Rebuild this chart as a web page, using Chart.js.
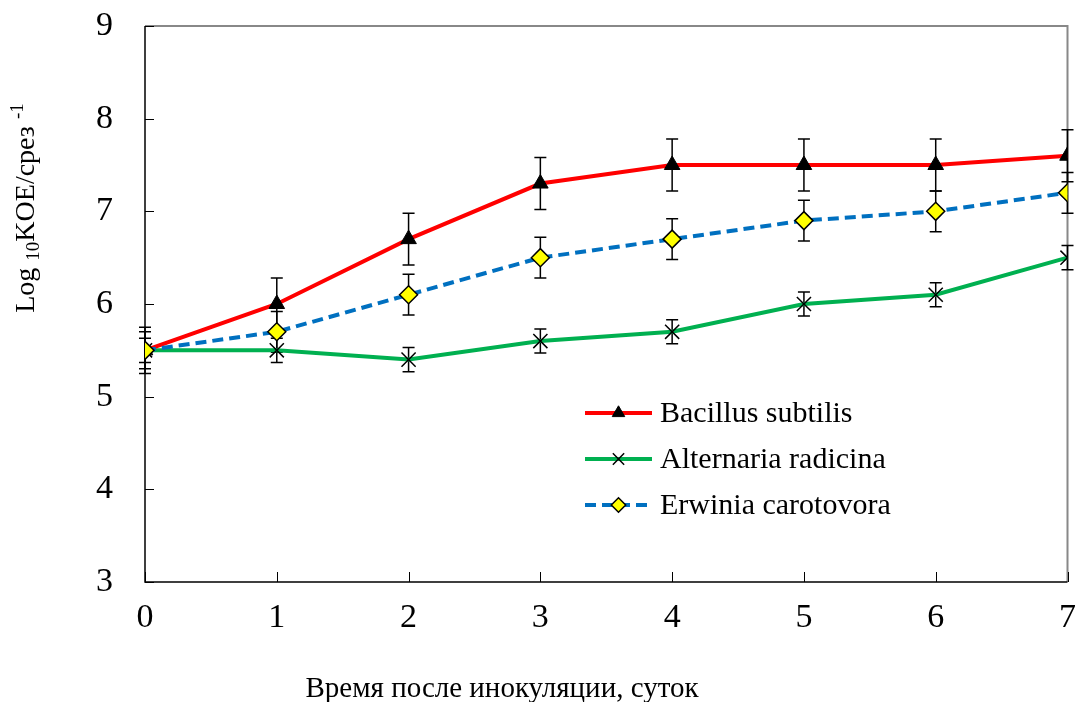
<!DOCTYPE html>
<html>
<head>
<meta charset="utf-8">
<script src="https://cdn.jsdelivr.net/npm/chart.js@4"></script>
<style>
  html, body { margin: 0; padding: 0; background: #fff; }
  #wrap { width: 1079px; height: 702px; }
</style>
</head>
<body>
<div id="wrap"><canvas id="myChart"></canvas></div>
<script>
// data
const days = [0, 1, 2, 3, 4, 5, 6, 7];
const yTicks = [3, 4, 5, 6, 7, 8, 9];
const seriesNames = ["Bacillus subtilis", "Alternaria radicina", "Erwinia carotovora"];
const bacillus = [5.5, 6.0, 6.7, 7.3, 7.5, 7.5, 7.5, 7.6];
const bacillusErr = [0.25, 0.28, 0.28, 0.28, 0.28, 0.28, 0.28, 0.28];
const alternaria = [5.5, 5.5, 5.4, 5.6, 5.7, 6.0, 6.1, 6.5];
const alternariaErr = [0.13, 0.13, 0.13, 0.13, 0.13, 0.13, 0.13, 0.13];
const erwinia = [5.5, 5.7, 6.1, 6.5, 6.7, 6.9, 7.0, 7.2];
const erwiniaErr = [0.2, 0.22, 0.22, 0.22, 0.22, 0.22, 0.22, 0.22];
const xTitle = "Время после инокуляции, суток";

const FONT = "'Liberation Serif', 'Times New Roman', serif";

function pts(vals) {
  return days.map((d, i) => ({ x: d, y: vals[i] }));
}

const errors = [bacillusErr, alternariaErr, erwiniaErr];

//error bars under the markers
const errorBars = {
  id: "errorBars",
  beforeDatasetsDraw(chart) {
    const ctx = chart.ctx;
    const xs = chart.scales.x, ys = chart.scales.y;
    ctx.save();
    ctx.strokeStyle = "#000";
    ctx.lineWidth = 1.5;
    chart.data.datasets.forEach((ds, di) => {
      ds.data.forEach((p, i) => {
        const e = errors[di][i];
        const px = xs.getPixelForValue(p.x);
        const top = ys.getPixelForValue(p.y + e);
        const bot = ys.getPixelForValue(p.y - e);
        ctx.beginPath();
        ctx.moveTo(px, top); ctx.lineTo(px, bot);
        ctx.moveTo(px - 6, top); ctx.lineTo(px + 6, top);
        ctx.moveTo(px - 6, bot); ctx.lineTo(px + 6, bot);
        ctx.stroke();
      });
    });
    ctx.restore();
  }
};

//frame, inward ticks, titles and legend
const decor = {
  id: "decor",
  beforeDatasetsDraw(chart) {
    const ctx = chart.ctx;
    const a = chart.chartArea;
    const xs = chart.scales.x, ys = chart.scales.y;
    ctx.save();
    ctx.strokeStyle = "#888";
    ctx.lineWidth = 2;
    ctx.beginPath();
    ctx.moveTo(a.left, a.top); ctx.lineTo(a.right, a.top); ctx.lineTo(a.right, a.bottom);
    ctx.stroke();
    ctx.strokeStyle = "#000";
    ctx.lineWidth = 1.5;
    ctx.beginPath();
    ctx.moveTo(a.left, a.top); ctx.lineTo(a.left, a.bottom); ctx.lineTo(a.right, a.bottom);
    ctx.stroke();
    ctx.lineWidth = 1;
    ctx.beginPath();
    yTicks.forEach(v => {
      const py = Math.round(ys.getPixelForValue(v)) + 0.5;
      ctx.moveTo(a.left, py); ctx.lineTo(a.left + 9, py);
    });
    days.forEach(v => {
      const px = Math.round(xs.getPixelForValue(v)) + 0.5;
      ctx.moveTo(px, a.bottom); ctx.lineTo(px, a.bottom - 10);
    });
    ctx.stroke();
    ctx.restore();
  },
  afterDraw(chart) {
    const ctx = chart.ctx;
    const a = chart.chartArea;
    ctx.save();
    ctx.fillStyle = "#000";
    ctx.textBaseline = "alphabetic";

    // x title
    ctx.font = "29px " + FONT;
    ctx.textAlign = "center";
    ctx.fillText(xTitle, a.left + (a.right - a.left) * 0.387, 697);

    // y title with sub/superscript
    ctx.translate(34, 208);
    ctx.rotate(-Math.PI / 2);
    const parts = [
      { t: "Log ", size: 28, dy: 0 },
      { t: "10", size: 19, dy: 5 },
      { t: "KOE/срез ", size: 28, dy: 0 },
      { t: "-1", size: 19, dy: -11 }
    ];
    let total = 0;
    parts.forEach(p => { ctx.font = p.size + "px " + FONT; total += ctx.measureText(p.t).width; });
    let cx = -total / 2;
    ctx.textAlign = "left";
    parts.forEach(p => {
      ctx.font = p.size + "px " + FONT;
      ctx.fillText(p.t, cx, p.dy);
      cx += ctx.measureText(p.t).width;
    });
    ctx.setTransform(1, 0, 0, 1, 0, 0);

    // legend
    const lx = 585, lw = 67, ly0 = 413, gap = 46;
    chart.data.datasets.forEach((ds, i) => {
      const y = ly0 + i * gap;
      ctx.save();
      ctx.strokeStyle = ds.borderColor;
      ctx.lineWidth = ds.borderWidth;
      ctx.setLineDash(ds.borderDash || []);
      ctx.beginPath();
      ctx.moveTo(lx, y); ctx.lineTo(lx + lw, y);
      ctx.stroke();
      ctx.restore();
      ctx.save();
      ctx.fillStyle = ds.pointBackgroundColor;
      ctx.strokeStyle = ds.pointBorderColor;
      ctx.lineWidth = ds.pointBorderWidth;
      Chart.helpers.drawPoint(ctx, {
        pointStyle: ds.pointStyle,
        radius: ds.pointRadius * 0.8,
        borderWidth: ds.pointBorderWidth,
        rotation: 0
      }, lx + lw / 2, y);
      ctx.restore();
      ctx.font = "30px " + FONT;
      ctx.fillStyle = "#000";
      ctx.textAlign = "left";
      ctx.textBaseline = "middle";
      ctx.fillText(ds.label, lx + lw + 8, y + 1);
    });
    ctx.restore();
  }
};

const ctx = document.getElementById("myChart");
new Chart(ctx, {
  type: "line",
  data: {
    datasets: [
      {
        label: seriesNames[0],
        data: pts(bacillus),
        borderColor: "#FF0000",
        borderWidth: 4,
        pointStyle: "triangle",
        pointRadius: 9,
        pointBackgroundColor: "#000",
        pointBorderColor: "#000",
        pointBorderWidth: 1,
        order: 2
      },
      {
        label: seriesNames[1],
        data: pts(alternaria),
        borderColor: "#00B050",
        borderWidth: 4,
        pointStyle: "crossRot",
        pointRadius: 10,
        pointBackgroundColor: "#000",
        pointBorderColor: "#000",
        pointBorderWidth: 1.5,
        order: 3
      },
      {
        label: seriesNames[2],
        data: pts(erwinia),
        borderColor: "#0070C0",
        borderWidth: 4,
        borderDash: [11, 6],
        pointStyle: "rectRot",
        pointRadius: 9,
        pointBackgroundColor: "#FFFF00",
        pointBorderColor: "#000",
        pointBorderWidth: 1.5,
        order: 1
      }
    ]
  },
  options: {
    responsive: true,
    maintainAspectRatio: false,
    animation: false,
    layout: { padding: { top: 26, right: 10, left: 0, bottom: 0 } },
    plugins: {
      legend: { display: false },
      tooltip: { enabled: false }
    },
    scales: {
      x: {
        type: "linear",
        min: 0,
        max: 7,
        afterFit(scale) {
          scale.height = 120;
          scale.paddingLeft = 0;
          scale.paddingRight = 0;
        },
        afterBuildTicks(scale) { scale.ticks = days.map(v => ({ value: v })); },
        grid: { display: false, drawTicks: false },
        border: { display: false },
        ticks: {
          color: "#000",
          font: { family: FONT, size: 34 },
          padding: 16
        }
      },
      y: {
        min: 3,
        max: 9,
        afterFit(scale) {
          scale.width = 145;
          scale.paddingTop = 0;
          scale.paddingBottom = 0;
        },
        afterBuildTicks(scale) { scale.ticks = yTicks.map(v => ({ value: v })); },
        grid: { display: false, drawTicks: false },
        border: { display: false },
        ticks: {
          color: "#000",
          font: { family: FONT, size: 34 },
          padding: 32
        }
      }
    }
  },
  plugins: [decor, errorBars]
});
</script>
</body>
</html>
